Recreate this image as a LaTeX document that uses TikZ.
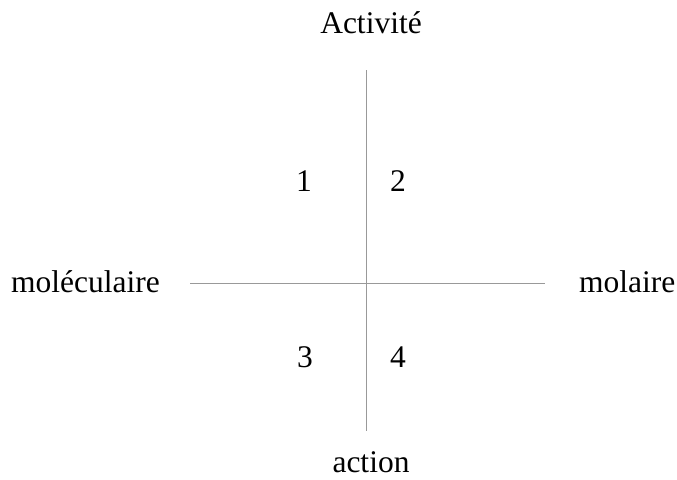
\documentclass[tikz,border=0pt]{standalone}
\usepackage{fontspec}
\setmainfont{Liberation Serif}
\begin{document}
\begin{tikzpicture}[x=1pt,y=-1pt,
  lbl/.style={anchor=base,inner sep=0pt,font=\fontsize{31.5}{38}\selectfont},
  axis/.style={draw=black!40,line width=1pt}]
\useasboundingbox (0,0) rectangle (677,479);
\coordinate (vt) at (366.5,70);
\coordinate (vb) at (366.5,431);
\coordinate (hl) at (190,283);
\coordinate (hr) at (545,283);
\draw[axis] (vt) -- (vb);
\draw[axis] (hl) -- (hr);
\node[lbl] (act) at (371,33) {Activité};
\node[lbl] (acn) at (371,472) {action};
\node[lbl,anchor=base west] (mol) at (11,292) {moléculaire};
\node[lbl,anchor=base west] (mola) at (579,292) {molaire};
\node[lbl] (q1) at (304,191) {1};
\node[lbl] (q2) at (398,191) {2};
\node[lbl] (q3) at (305,367) {3};
\node[lbl] (q4) at (398,367) {4};
\end{tikzpicture}
\end{document}
